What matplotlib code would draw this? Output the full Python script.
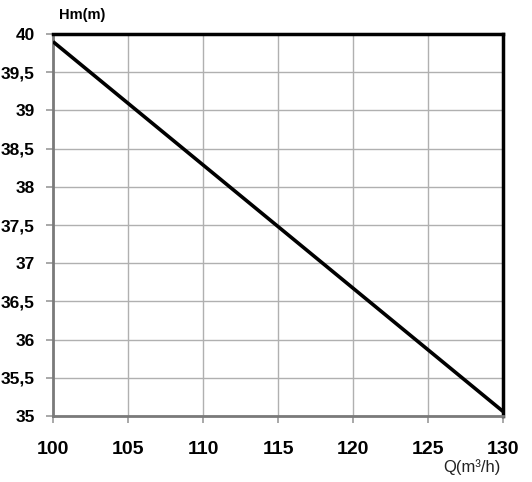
import matplotlib
matplotlib.use("Agg")
import matplotlib.pyplot as plt
import numpy as np

q = [100, 130]
hm = [39.9, 35.06]
xticks = [100, 105, 110, 115, 120, 125, 130]
yticks = [35, 35.5, 36, 36.5, 37, 37.5, 38, 38.5, 39, 39.5, 40]
ytick_labels = ["35", "35,5", "36", "36,5", "37", "37,5", "38", "38,5", "39", "39,5", "40"]

plt.rcParams['font.family'] = ['Liberation Sans', 'DejaVu Sans']
fig = plt.figure(figsize=(5.32, 4.82), dpi=100)
ax = fig.add_axes([53/532, 1-416/482, 450/532, 382/482])
ax.plot(q, hm, color='black', lw=2.6, solid_capstyle='butt', zorder=3)
ax.set_xlim(100, 130)
ax.set_ylim(35, 40)
ax.set_xticks(xticks)
ax.set_xticklabels([str(x) for x in xticks], fontsize=14, fontweight='bold')
ax.set_yticks(yticks)
ax.set_yticklabels(ytick_labels, fontsize=12.5, fontweight='bold')
ax.grid(True, color='#b0b0b0', lw=1.0)
ax.tick_params(direction='out', length=5, color='#999999', width=1.2)
ax.tick_params(axis='x', pad=13)
ax.tick_params(axis='y', pad=8)
for s in ['left', 'bottom']:
    ax.spines[s].set_color('#7a7a7a')
    ax.spines[s].set_linewidth(2)
for s in ['top', 'right']:
    ax.spines[s].set_color('black')
    ax.spines[s].set_linewidth(2.5)
fig.text(82/532, 1-15/482, "Hm(m)", fontsize=10.5, fontweight='bold', ha='center', va='center')
fig.text(472/532, 1-467/482, "Q(m³/h)", fontsize=12, ha='center', va='center', color='#222222')
fig.savefig("out.png", dpi=100)
